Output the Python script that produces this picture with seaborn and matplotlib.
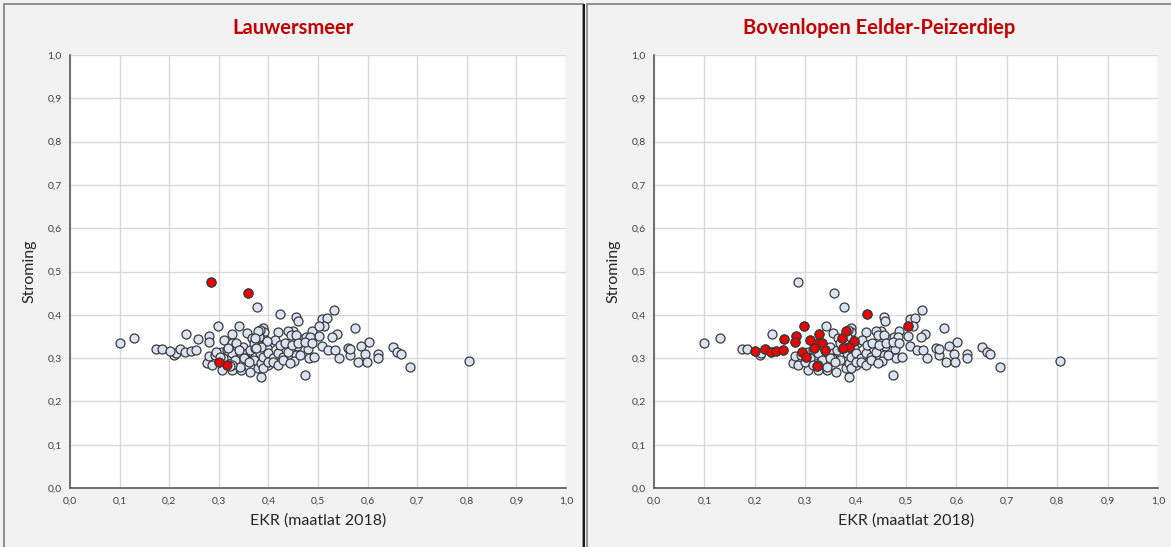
import numpy as np
import pandas as pd
import seaborn as sns
import matplotlib.pyplot as plt
from matplotlib.patches import Rectangle
from matplotlib.ticker import FixedLocator, FuncFormatter

# Alle meetpunten (grijs), zonder de gemarkeerde punten
basis_ekr = [0.100, 0.130, 0.174, 0.185, 0.210, 0.234, 0.276, 0.286, 0.280, 0.341,
             0.377, 0.456, 0.459, 0.532, 0.508, 0.518, 0.513, 0.575, 0.487, 0.450,
             0.538, 0.529, 0.503, 0.466, 0.476, 0.602, 0.508, 0.458, 0.479, 0.586,
             0.560, 0.521, 0.534, 0.651, 0.660, 0.667, 0.595, 0.565, 0.621, 0.621,
             0.456, 0.481, 0.492, 0.542, 0.580, 0.598, 0.452, 0.686, 0.805, 0.474,
             0.386, 0.390, 0.391, 0.420, 0.440, 0.445, 0.456, 0.484, 0.383, 0.393,
             0.403, 0.413, 0.356, 0.384, 0.382, 0.306, 0.326, 0.344, 0.362, 0.380,
             0.296, 0.306, 0.316, 0.319, 0.326, 0.333, 0.343, 0.349, 0.356, 0.363,
             0.373, 0.376, 0.386, 0.390, 0.397, 0.366, 0.370, 0.333, 0.353, 0.370,
             0.386, 0.400, 0.292, 0.309, 0.343, 0.326, 0.383, 0.390, 0.400, 0.410,
             0.420, 0.430, 0.440, 0.464, 0.390, 0.400, 0.410, 0.420, 0.430, 0.444,
             0.423, 0.433, 0.447, 0.460, 0.474, 0.487, 0.565, 0.213, 0.350, 0.360]
basis_stroming = [0.336, 0.347, 0.320, 0.322, 0.307, 0.355, 0.288, 0.284, 0.305, 0.375,
                  0.419, 0.396, 0.386, 0.410, 0.390, 0.392, 0.373, 0.370, 0.362, 0.363,
                  0.356, 0.349, 0.351, 0.345, 0.348, 0.338, 0.327, 0.329, 0.321, 0.328,
                  0.323, 0.318, 0.319, 0.326, 0.314, 0.309, 0.309, 0.307, 0.309, 0.300,
                  0.307, 0.300, 0.302, 0.301, 0.291, 0.290, 0.293, 0.280, 0.294, 0.260,
                  0.256, 0.369, 0.361, 0.361, 0.363, 0.353, 0.353, 0.349, 0.346, 0.342,
                  0.334, 0.342, 0.359, 0.365, 0.349, 0.273, 0.273, 0.273, 0.269, 0.276,
                  0.311, 0.315, 0.319, 0.307, 0.311, 0.330, 0.315, 0.326, 0.311, 0.319,
                  0.323, 0.334, 0.326, 0.311, 0.323, 0.346, 0.334, 0.296, 0.300, 0.296,
                  0.288, 0.284, 0.307, 0.300, 0.280, 0.284, 0.311, 0.303, 0.311, 0.300,
                  0.311, 0.303, 0.315, 0.307, 0.276, 0.292, 0.292, 0.284, 0.296, 0.288,
                  0.330, 0.334, 0.330, 0.334, 0.338, 0.336, 0.320, 0.311, 0.300, 0.290]

# Lauwersmeer (rood)
lauw_ekr = [0.285, 0.358, 0.300, 0.316]
lauw_stroming = [0.475, 0.450, 0.290, 0.283]

# Bovenlopen Eelder-Peizerdiep (rood)
bov_ekr = [0.423, 0.298, 0.258, 0.281, 0.280, 0.201, 0.221, 0.232, 0.243, 0.255,
           0.294, 0.302, 0.310, 0.327, 0.326, 0.334, 0.318, 0.340, 0.323, 0.380,
           0.373, 0.397, 0.386, 0.375, 0.503]
bov_stroming = [0.402, 0.375, 0.345, 0.351, 0.338, 0.316, 0.322, 0.313, 0.317, 0.319,
                0.313, 0.303, 0.341, 0.355, 0.336, 0.336, 0.323, 0.319, 0.282, 0.363,
                0.347, 0.340, 0.326, 0.323, 0.375]

titels = ["Lauwersmeer", "Bovenlopen Eelder-Peizerdiep"]
ticks = [i / 10 for i in range(11)]

alle = pd.DataFrame({"ekr": basis_ekr + lauw_ekr + bov_ekr,
                     "stroming": basis_stroming + lauw_stroming + bov_stroming})
rood = [pd.DataFrame({"ekr": lauw_ekr, "stroming": lauw_stroming}),
        pd.DataFrame({"ekr": bov_ekr, "stroming": bov_stroming})]

sns.set_style("white")
plt.rcParams["font.family"] = ["Lato", "DejaVu Sans"]

W, H = 1171, 547
fig = plt.figure(figsize=(W / 100, H / 100), dpi=100)
fig.patch.set_facecolor("#f2f2f2")

# kaders van de twee grafieken (pixels)
kaders = [(4, 583), (587, 1175)]
assen = [(70, 566), (654, 1158)]
top, bodem = 55, 488

komma = FuncFormatter(lambda v, p: "{:.1f}".format(v).replace(".", ","))

for i in range(2):
    x0, x1 = kaders[i]
    fig.patches.append(Rectangle((x0 / W, -0.01), (x1 - x0) / W, 1 - 4 / H + 0.01,
                                 transform=fig.transFigure, facecolor="none",
                                 edgecolor="#808080", lw=1.2))
    a0, a1 = assen[i]
    ax = fig.add_axes([a0 / W, 1 - bodem / H, (a1 - a0) / W, (bodem - top) / H])
    ax.set_facecolor("white")

    sns.scatterplot(data=alle, x="ekr", y="stroming", ax=ax, s=42,
                    color="#dae3f3", edgecolor="#3a3a3a", linewidth=0.9, zorder=3)
    sns.scatterplot(data=rood[i], x="ekr", y="stroming", ax=ax, s=42,
                    color="#ee0000", edgecolor="#3a3a3a", linewidth=0.9, zorder=4)

    ax.set_xlim(0, 1)
    ax.set_ylim(0, 1)
    ax.xaxis.set_major_locator(FixedLocator(ticks))
    ax.yaxis.set_major_locator(FixedLocator(ticks))
    ax.xaxis.set_major_formatter(komma)
    ax.yaxis.set_major_formatter(komma)
    ax.grid(True, color="#d9d9d9", lw=1, zorder=0)
    ax.set_axisbelow(True)
    for s in ["top", "right"]:
        ax.spines[s].set_visible(False)
    for s in ["left", "bottom"]:
        ax.spines[s].set_color("#595959")
        ax.spines[s].set_linewidth(1.2)
    ax.tick_params(labelsize=7.5, colors="#404040", length=0, pad=6)
    ax.set_xlabel("EKR (maatlat 2018)", fontsize=11.5, color="#262626", labelpad=6)
    ax.set_ylabel("Stroming", fontsize=11.5, color="#262626", labelpad=8)

    fig.text((x0 + min(x1, W)) / 2 / W, 1 - 28 / H, titels[i], ha="center", va="center",
             fontsize=14.5, fontweight="bold", color="#c00000")

# donkere scheidingslijn tussen de panelen
fig.patches.append(Rectangle((583 / W, 0), 2 / W, 1 - 4 / H, transform=fig.transFigure,
                             facecolor="#1a1a1a", edgecolor="none"))

fig.savefig("out.png", dpi=100, facecolor=fig.get_facecolor())
